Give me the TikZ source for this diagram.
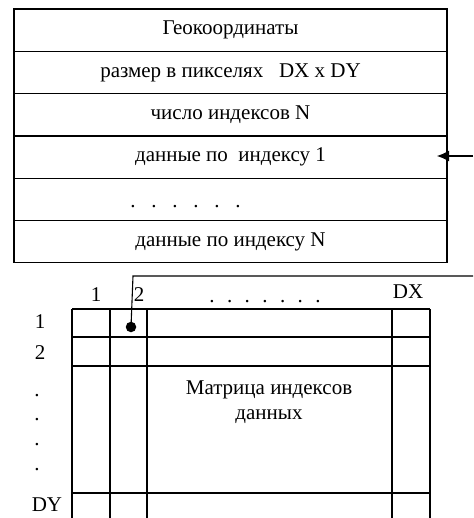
\documentclass[tikz,border=0pt]{standalone}
\usepackage{fontspec}
\setmainfont{Liberation Serif}
\usetikzlibrary{positioning, arrows.meta}

\tikzset{
  rowbox/.style={draw, line width=1.1pt, outer sep=0pt, inner sep=0pt,
    minimum width=433pt, minimum height=42.3pt, font=\fontsize{21}{24}\selectfont},
  lbl/.style={inner sep=0pt, font=\fontsize{21}{24}\selectfont},
  gridline/.style={line width=1.4pt},
}

\begin{document}
\begin{tikzpicture}[x=1pt, y=-1pt]
    \useasboundingbox (0,0) rectangle (473,518);

    % File header - stack of records
    \node[rowbox] (geo) at (230.5,30.15) {Геокоординаты};
    \node[rowbox, below=0pt of geo] (size) {размер в пикселях\ \ \ DX x DY};
    \node[rowbox, below=0pt of size] (count) {число индексов N};
    \node[rowbox, below=0pt of count] (idx1) {данные по\ \ индексу 1};
    \node[rowbox, below=0pt of idx1] (gap) {};
    \node[rowbox, below=0pt of gap] (idxN) {данные по индексу N};
    \draw[line width=2pt] (count.south west) -- (count.south east);

    % Dots in the empty record
    \foreach \x in {133,154,175,196,217,238}
        \node[lbl, anchor=base] at (\x,208) {.};

    % Arrow into record 1
    \coordinate (inA) at (473,156);
    \draw[line width=1.1pt, -{Latex[length=12pt,width=11pt]}] (inA) -- ([xshift=-10pt]idx1.east |- inA);

    % Index matrix - grid
    \foreach \x in {72,110,147,392,430}
        \draw[gridline] (\x,309) -- (\x,518);
    \foreach \y in {309,337,366,493}
        \draw[gridline] (72,\y) -- (430,\y);

    % Column labels
    \node[lbl] (c1) at (96,295) {1};
    \node[lbl] (c2) at (139,295) {2};
    \foreach \x in {212,229.7,247.3,265,282.7,300.3,318}
        \node[lbl, anchor=base] at (\x,302) {.};
    \node[lbl] (cDX) at (408,292) {DX};

    % Row labels
    \node[lbl] (r1) at (40,322) {1};
    \node[lbl] (r2) at (40,353) {2};
    \foreach \y in {396,420,445,470}
        \node[lbl, anchor=base] at (37,\y) {.};
    \node[lbl] (rDY) at (47,505) {DY};

    % Matrix caption
    \node[lbl, align=center, font=\fontsize{21}{24.5}\selectfont] (mat) at (269,402) {Матрица индексов\\данных};

    % Cell pointer back to the file
    \node[circle, fill, inner sep=0pt, minimum size=10.5pt] (cell) at (131,327) {};
    \coordinate (bend) at (133,276);
    \coordinate (outB) at (473,276);
    \draw[line width=1.1pt] (cell.center) -- (bend) -- (outB);
\end{tikzpicture}
\end{document}
